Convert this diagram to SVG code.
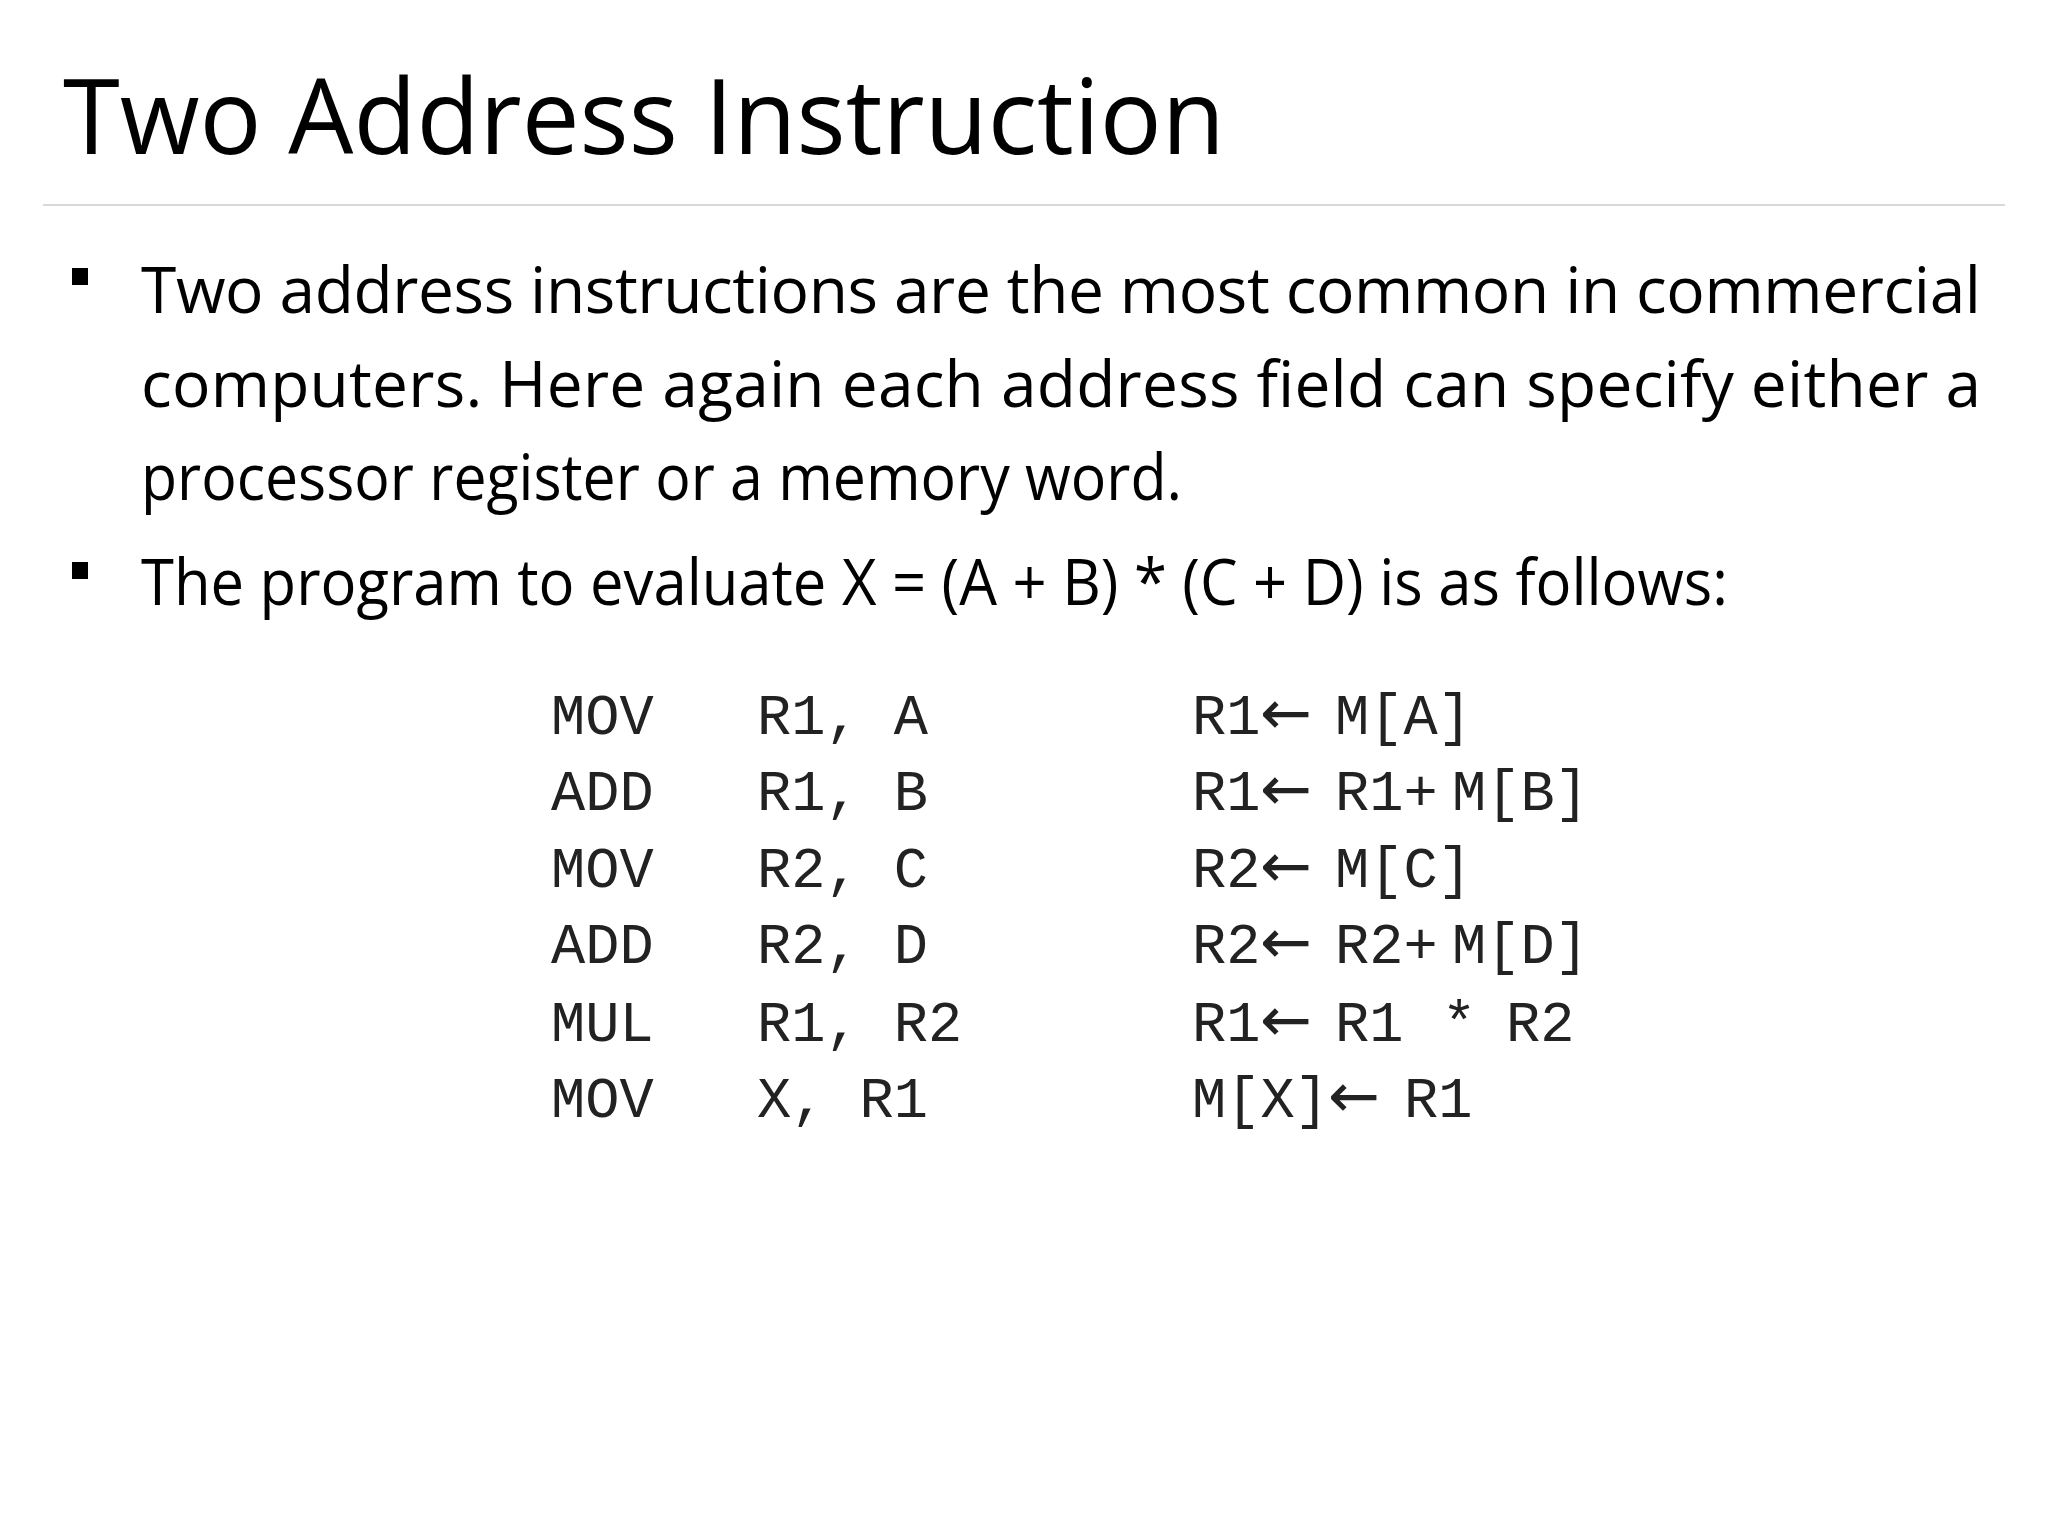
<svg xmlns="http://www.w3.org/2000/svg" width="2048" height="1536" viewBox="0 0 2048 1536">
<style>
.t{font-family:"Open Sans","Liberation Sans",sans-serif;fill:#000}
.b{font-family:"Open Sans","Liberation Sans",sans-serif;font-size:64px;fill:#000}
.m{font-family:"Liberation Mono",monospace;font-size:57px;fill:#222}
.a{font-family:"DejaVu Sans",sans-serif;font-size:62px;fill:#222}
</style>
<rect width="2048" height="1536" fill="#fff"/>
<g id="title"><text class="t" x="63" y="154" font-size="104" textLength="1162" lengthAdjust="spacingAndGlyphs">Two Address Instruction</text></g>
<line x1="43" y1="205" x2="2005" y2="205" stroke="#d9d9d9" stroke-width="2"/>
<g id="bullets">
<rect x="72" y="268" width="16" height="17" fill="#000"/>
<rect x="72" y="562" width="16" height="17" fill="#000"/>
<text class="b" x="141" y="313" textLength="1840" lengthAdjust="spacing">Two address instructions are the most common in commercial</text>
<text class="b" x="141" y="407" textLength="1840" lengthAdjust="spacing">computers. Here again each address field can specify either a</text>
<text class="b" x="141" y="500" textLength="1041" lengthAdjust="spacingAndGlyphs">processor register or a memory word.</text>
<text class="b" x="141" y="605" textLength="1587" lengthAdjust="spacingAndGlyphs">The program to evaluate X = (A + B) * (C + D) is as follows:</text>
</g>
<g id="code">
<text class="m" x="551" y="734">MOV</text><text class="m" x="757" y="734">R1, A</text>
<text class="m" x="551" y="810">ADD</text><text class="m" x="757" y="810">R1, B</text>
<text class="m" x="551" y="887">MOV</text><text class="m" x="757" y="887">R2, C</text>
<text class="m" x="551" y="963">ADD</text><text class="m" x="757" y="963">R2, D</text>
<text class="m" x="551" y="1041">MUL</text><text class="m" x="757" y="1041">R1, R2</text>
<text class="m" x="551" y="1117">MOV</text><text class="m" x="757" y="1117">X, R1</text>

<text class="m" x="1192" y="734">R1</text><text class="a" x="1260" y="734">←</text><text class="m" x="1335" y="734">M[A]</text>
<text class="m" x="1192" y="810">R1</text><text class="a" x="1260" y="810">←</text><text class="m" x="1335" y="810">R1+</text><text class="m" x="1452" y="810">M[B]</text>
<text class="m" x="1192" y="887">R2</text><text class="a" x="1260" y="887">←</text><text class="m" x="1335" y="887">M[C]</text>
<text class="m" x="1192" y="963">R2</text><text class="a" x="1260" y="963">←</text><text class="m" x="1335" y="963">R2+</text><text class="m" x="1452" y="963">M[D]</text>
<text class="m" x="1192" y="1041">R1</text><text class="a" x="1260" y="1041">←</text><text class="m" x="1335" y="1041">R1</text><text class="m" x="1442" y="1041">*</text><text class="m" x="1506" y="1041">R2</text>
<text class="m" x="1192" y="1117">M[X]</text><text class="a" x="1328" y="1117">←</text><text class="m" x="1404" y="1117">R1</text>
</g>
</svg>
